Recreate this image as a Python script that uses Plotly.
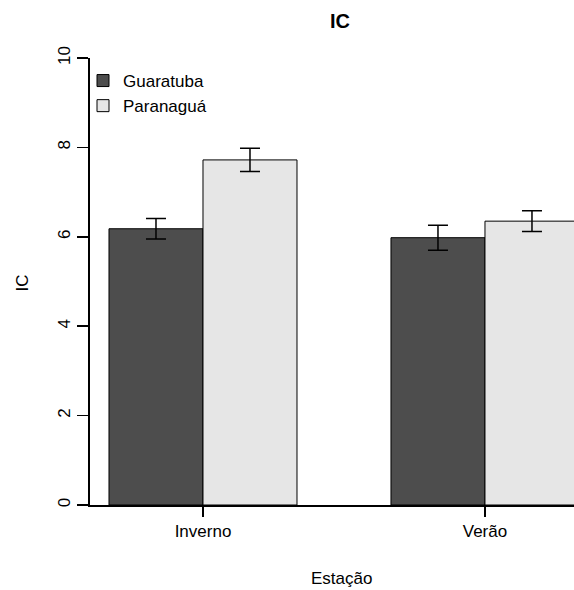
import plotly.graph_objects as go

stations = ["Inverno", "Verão"]
station_pos = [2, 5]
guaratuba_mean = [6.18, 5.98]
guaratuba_err = [0.23, 0.28]
paranagua_mean = [7.72, 6.35]
paranagua_err = [0.26, 0.23]
y_ticks = [0, 2, 4, 6, 8, 10]

FONT = "Liberation Sans, Arial, sans-serif"

fig = go.Figure()
fig.add_trace(go.Bar(
    x=station_pos, y=guaratuba_mean, name="Guaratuba",
    marker=dict(color="#4D4D4D", line=dict(color="black", width=1)),
    error_y=dict(type="data", array=guaratuba_err, color="black", thickness=1.5, width=10),
))
fig.add_trace(go.Bar(
    x=station_pos, y=paranagua_mean, name="Paranaguá",
    marker=dict(color="#E6E6E6", line=dict(color="black", width=1)),
    error_y=dict(type="data", array=paranagua_err, color="black", thickness=1.5, width=10),
))

W, H = 574, 590
L, R, T = 90, 0, 58
B = H - 505
PW = W - L - R
PH = H - T - B

fig.update_layout(
    width=W, height=H,
    margin=dict(l=L, r=R, t=T, b=B, pad=0),
    paper_bgcolor="white", plot_bgcolor="white",
    barmode="group", bargap=1/3, bargroupgap=0,
    font=dict(family=FONT, size=17, color="black"),
    showlegend=True,
    hovermode=False,
    legend=dict(x=-7 / PW, y=1 - 5 / PH, xanchor="left", yanchor="top",
                bgcolor="rgba(0,0,0,0)", font=dict(size=17),
                tracegroupgap=0, itemclick=False),
    xaxis=dict(
        range=[0.798, 5.947], tickvals=station_pos, ticktext=stations,
        ticks="outside", ticklen=10, tickwidth=1.5, tickcolor="black",
        showline=True, linecolor="black", linewidth=2,
        showgrid=False, zeroline=False, fixedrange=True,
        tickfont=dict(size=17),
    ),
    yaxis=dict(
        range=[0, 10], tickvals=y_ticks,
        ticks="outside", ticklen=11, tickwidth=1.5, tickcolor="black",
        showline=True, linecolor="black", linewidth=2,
        showgrid=False, zeroline=False, tickangle=-90, fixedrange=True,
        tickfont=dict(size=17), ticklabelstandoff=0,
    ),
    annotations=[
        dict(text="<b>IC</b>", x=(340 - L) / PW, y=1, xref="paper", yref="paper",
             yshift=(58 - 21), showarrow=False, font=dict(size=20), yanchor="middle"),
        dict(text="Estação", x=(341 - L) / PW, y=0, xref="paper", yref="paper",
             yshift=-(578 - 505), showarrow=False, font=dict(size=17), yanchor="middle"),
        dict(text="IC", x=0, y=(505 - 283) / PH, xref="paper", yref="paper",
             xshift=-(L - 21.5), showarrow=False, textangle=-90, font=dict(size=17),
             xanchor="center", yanchor="middle"),
    ],
)

fig.write_html(
    "out.html",
    config={"displayModeBar": False, "staticPlot": True},
    post_script="document.body.style.margin='0';document.body.style.overflow='hidden';",
)
